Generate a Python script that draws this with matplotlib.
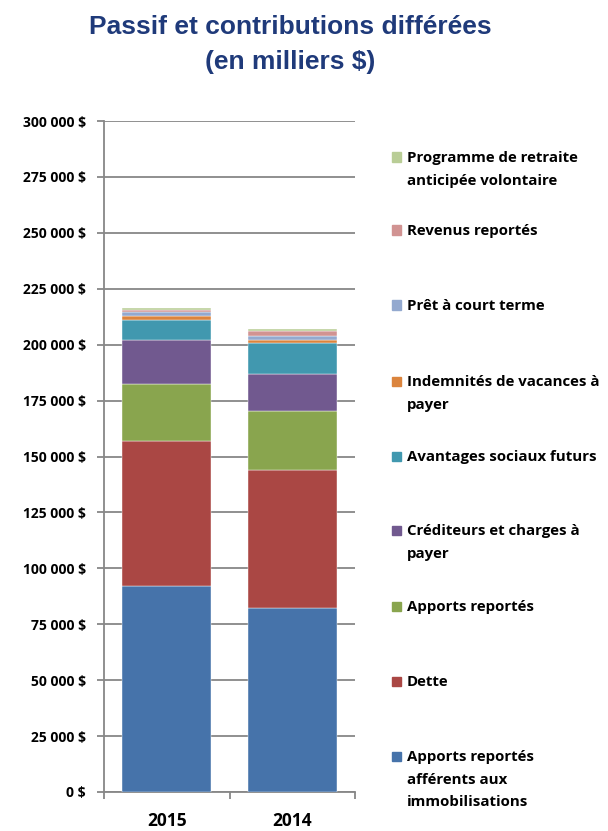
import matplotlib.pyplot as plt
from matplotlib.patches import Rectangle
from matplotlib.ticker import FuncFormatter
import numpy as np

# Data
years = ["2015", "2014"]
series_names = [
    "Apports reportés\nafférents aux\nimmobilisations",
    "Dette",
    "Apports reportés",
    "Créditeurs et charges à\npayer",
    "Avantages sociaux futurs",
    "Indemnités de vacances à\npayer",
    "Prêt à court terme",
    "Revenus reportés",
    "Programme de retraite\nanticipée volontaire",
]
apports_immo = [92100, 82400]
dette = [64800, 61700]
apports_reportes = [25700, 26200]
crediteurs = [19300, 16700]
avantages = [9300, 13600]
vacances = [1700, 1600]
pret = [1700, 1800]
revenus = [1000, 2100]
retraite = [800, 900]
colors = ["#4673AA", "#AA4744", "#89A54E", "#71598F", "#4198AF",
          "#DB843D", "#93A9CF", "#D19392", "#B9CD96"]

values = [apports_immo, dette, apports_reportes, crediteurs, avantages,
          vacances, pret, revenus, retraite]

plt.rcParams['font.family'] = ['Liberation Sans', 'DejaVu Sans']
bold_font = ["Open Sans", "DejaVu Sans"]

fig = plt.figure(figsize=(6.08, 8.31), dpi=100)
ax = fig.add_axes([104 / 608, 39 / 831, 251 / 608, 671 / 831])

x = np.arange(len(years))
bottom = np.zeros(len(years))
for vals, c in zip(values, colors):
    ax.bar(x, vals, width=0.71, bottom=bottom, color=c,
           edgecolor="white", linewidth=0.3, zorder=3)
    bottom += np.array(vals)

grid_c = "#878787"
ax.set_xlim(-0.5, 1.5)
ax.set_ylim(0, 300000)
ax.set_yticks(np.arange(0, 300001, 25000))
ax.yaxis.set_major_formatter(FuncFormatter(
    lambda v, p: f"{int(v):,} $".replace(",", " ")))
ax.yaxis.grid(True, color=grid_c, linewidth=1.3, zorder=0)
ax.set_axisbelow(True)
for s in ["top", "right"]:
    ax.spines[s].set_visible(False)
ax.spines["left"].set_color(grid_c)
ax.spines["left"].set_linewidth(1.3)
ax.spines["bottom"].set_color(grid_c)
ax.spines["bottom"].set_linewidth(1.3)
ax.tick_params(axis="y", length=5, width=1.3, color=grid_c, pad=8,
               labelsize=10)
for lbl in ax.get_yticklabels():
    lbl.set_fontweight("bold")
    lbl.set_family(bold_font)

# category labels with boundary ticks
ax.set_xticks([-0.5, 0.5, 1.5])
ax.set_xticklabels([])
ax.tick_params(axis="x", length=5, width=1.3, color=grid_c)
for xi, yr in zip(x, years):
    ax.text(xi, -0.043, yr, transform=ax.get_xaxis_transform(),
            ha="center", va="center", fontsize=12.5, fontweight="bold",
            family=bold_font)

# Title
fig.text(0.477, 1 - 27 / 831, "Passif et contributions différées",
         ha="center", va="center", fontsize=19, fontweight="bold",
         color="#1F3A7A")
fig.text(0.477, 1 - 62 / 831, "(en milliers $)",
         ha="center", va="center", fontsize=19, fontweight="bold",
         color="#1F3A7A")

# Legend, drawn Excel-style (top entry = last series)
first_line_y = [756, 681, 606, 530, 456, 381, 305, 230, 157]
for name, c, yy in zip(series_names, colors, first_line_y):
    fig.patches.append(Rectangle((392 / 608, (831 - yy - 4.5) / 831),
                                 9 / 608, 9 / 831, color=c,
                                 transform=fig.transFigure))
    fig.text(407 / 608, (831 - yy + 6) / 831, name, ha="left", va="top",
             fontsize=10.8, fontweight="bold", linespacing=1.78,
             family=bold_font, transform=fig.transFigure)

fig.savefig("out.png", dpi=100)
